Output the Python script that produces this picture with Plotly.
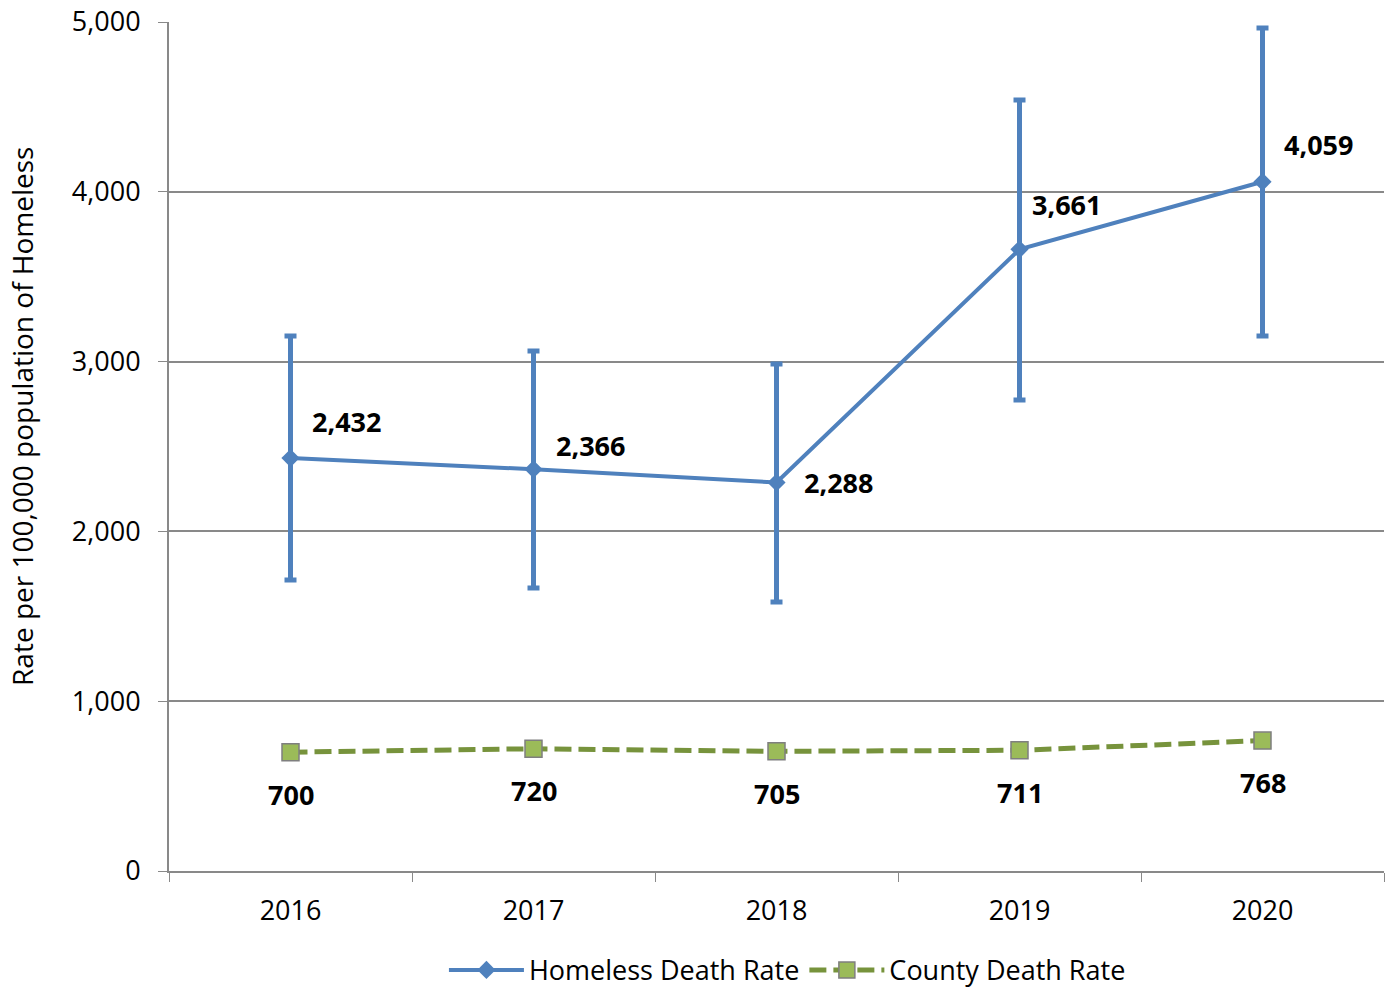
import plotly.graph_objects as go

years = ["2016", "2017", "2018", "2019", "2020"]
homeless_rate = [2432, 2366, 2288, 3661, 4059]
homeless_upper = [3151, 3062, 2986, 4541, 4965]
homeless_lower = [1714, 1667, 1584, 2774, 3151]
county_rate = [700, 720, 705, 711, 768]

# label offsets (pixels) for homeless labels
h_dx = [56, 57, 62, 47, 56]
h_dy = [37, 24, 0, 45, 37]

err_plus = [u - v for u, v in zip(homeless_upper, homeless_rate)]
err_minus = [v - l for v, l in zip(homeless_rate, homeless_lower)]

BLUE = "#4F81BD"
GREEN = "#9BBB59"
GREEN_LINE = "#77933C"
FONT = "Open Sans"

fig = go.Figure()
fig.add_trace(go.Scatter(
    x=years, y=homeless_rate, name="Homeless Death Rate",
    mode="lines+markers",
    line=dict(color=BLUE, width=4),
    marker=dict(symbol="diamond", size=14, color=BLUE),
    error_y=dict(type="data", symmetric=False, array=err_plus, arrayminus=err_minus,
                 color=BLUE, thickness=5, width=6),
))
fig.add_trace(go.Scatter(
    x=years, y=county_rate, name="County Death Rate",
    mode="lines+markers",
    line=dict(color=GREEN_LINE, width=5, dash="17px,7px"),
    marker=dict(symbol="square", size=17, color=GREEN, line=dict(color="#7F7F7F", width=1.5)),
))

annotations = []
for i, v in enumerate(homeless_rate):
    annotations.append(dict(x=i, y=v, xref="x", yref="y", text="<b>" + f"{v:,}" + "</b>",
                            showarrow=False, xshift=h_dx[i], yshift=h_dy[i],
                            font=dict(family=FONT, size=27, color="black")))
for i, v in enumerate(county_rate):
    annotations.append(dict(x=i, y=v, xref="x", yref="y", text="<b>" + f"{v:,}" + "</b>",
                            showarrow=False, yshift=-42,
                            font=dict(family=FONT, size=27, color="black")))
annotations.append(dict(x=-0.121, y=0.536, xref="paper", yref="paper",
                        text="Rate per 100,000 population of Homeless", textangle=-90,
                        showarrow=False, xanchor="center", yanchor="middle",
                        font=dict(family=FONT, size=28, color="black")))

fig.update_layout(
    annotations=annotations,
    width=1388, height=990,
    margin=dict(l=169, r=4, t=22, b=119, autoexpand=False),
    paper_bgcolor="white", plot_bgcolor="white",
    font=dict(family=FONT, size=27, color="black"),
    showlegend=True,
    legend=dict(orientation="h", x=0.509, xanchor="center", y=-0.117, yanchor="middle",
                font=dict(family=FONT, size=27), itemwidth=75),
    xaxis=dict(type="category", tickson="boundaries", ticks="outside", ticklen=9,
               tickcolor="#898989", showline=True, linecolor="#898989", linewidth=2,
               showgrid=False, tickfont=dict(size=27), range=[-0.5, 4.5],
               ticklabelstandoff=15),
    yaxis=dict(range=[0, 5000], tickvals=[0, 1000, 2000, 3000, 4000, 5000],
               tickformat=",", ticks="outside", ticklen=9, tickcolor="#898989",
               showline=True, linecolor="#898989", linewidth=2,
               showgrid=True, gridcolor="#898989", gridwidth=1.5,
               zeroline=False, tickfont=dict(size=27), ticklabelstandoff=12),
)

fig.write_html("out.html", config={"displayModeBar": False},
               post_script="document.body.style.margin='0';")
